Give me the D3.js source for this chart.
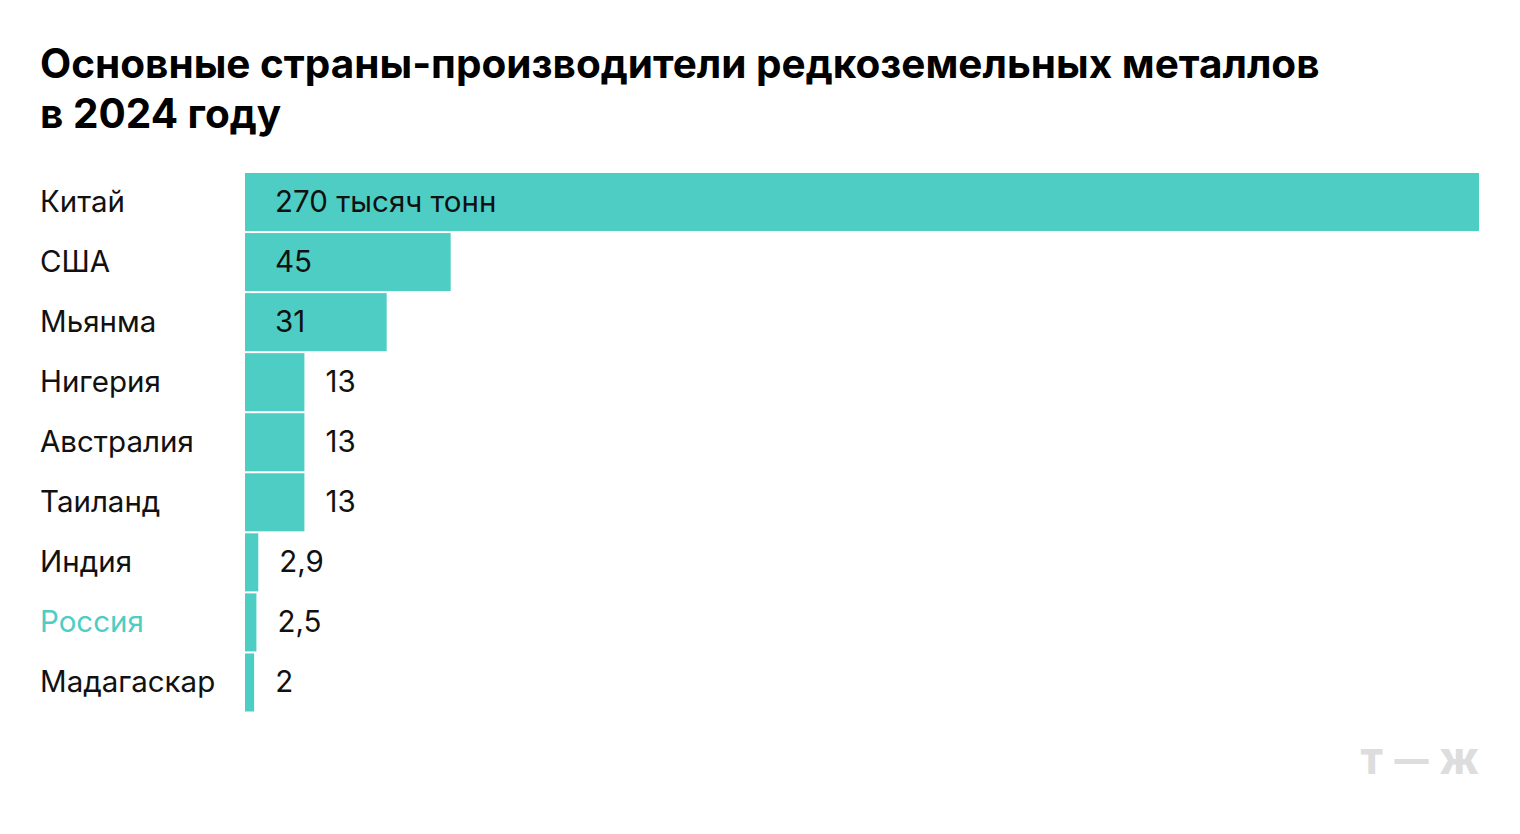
<!DOCTYPE html><html><head><meta charset="utf-8">
<script src="https://cdn.jsdelivr.net/npm/d3@7"></script>
<style>body{margin:0;background:#fff}text{font-family:Inter,"Noto Sans",sans-serif}</style></head><body>
<svg id="c" width="1520" height="834"></svg>
<script>
const countries=["Китай","США","Мьянма","Нигерия","Австралия","Таиланд","Индия","Россия","Мадагаскар"];
const values=[270,45,31,13,13,13,2.9,2.5,2];
const labels=["270 тысяч тонн","45","31","13","13","13","2,9","2,5","2"];
const svg=d3.select("#c");
const x=d3.scaleLinear().domain([0,270]).range([245,1479]);
const y=d3.scaleBand().domain(countries).range([173,711.5]).paddingInner(0.033);
svg.append("text").attr("x",40).attr("y",78).attr("font-size",40.5).attr("font-weight",700).text("Основные страны-производители редкоземельных металлов");
svg.append("text").attr("x",40).attr("y",128).attr("font-size",40.5).attr("font-weight",700).text("в 2024 году");
const g=svg.selectAll("g.r").data(countries).enter().append("g");
g.append("rect").attr("x",x(0)).attr("y",d=>y(d)).attr("height",y.bandwidth()).attr("width",(d,i)=>x(values[i])-x(0)).attr("fill","#4ecdc4");
g.append("text").attr("x",40).attr("y",d=>y(d)+y.bandwidth()/2+10).attr("font-size",29.5).attr("fill",d=>d==="Россия"?"#4ecdc4":"#111").text(d=>d);
g.append("text").attr("x",(d,i)=>x(values[i])-x(0)>100?x(0)+30:x(values[i])+21).attr("y",d=>y(d)+y.bandwidth()/2+10).attr("font-size",29.5).attr("fill","#111").text((d,i)=>labels[i]);
svg.append("text").attr("x",1479).attr("y",774).attr("text-anchor","end").attr("font-size",34).attr("font-weight",900).attr("fill","#ddd").attr("textLength",119).text("Т—Ж");
</script></body></html>
